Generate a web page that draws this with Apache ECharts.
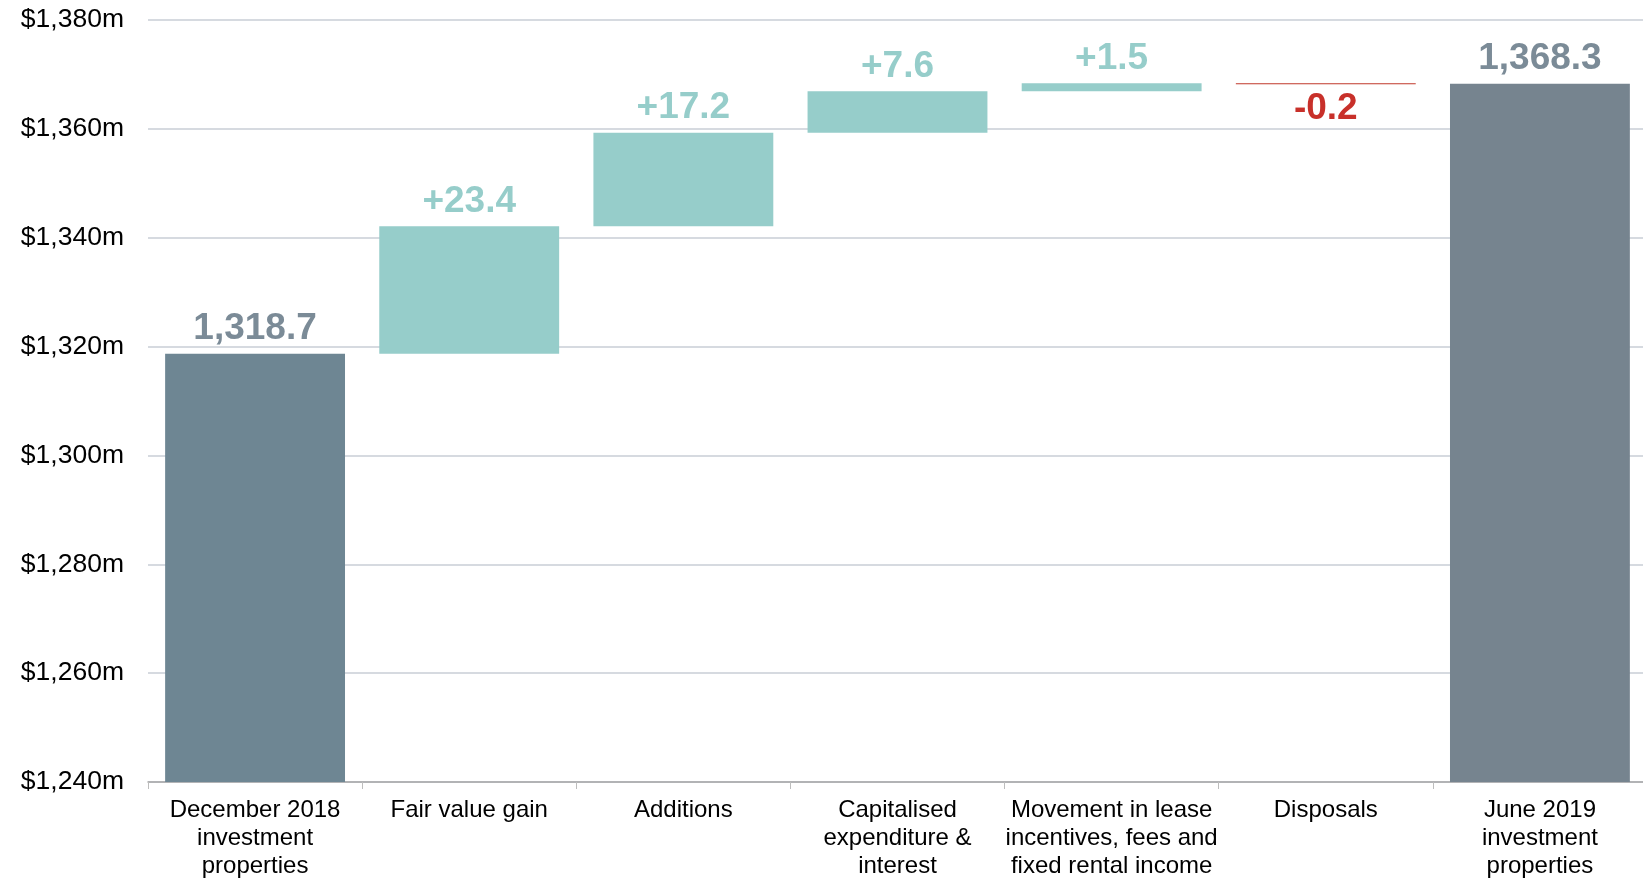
<!DOCTYPE html>
<html>
<head>
<meta charset="utf-8">
<script src="https://cdn.jsdelivr.net/npm/echarts@6/dist/echarts.min.js"></script>
<style>
  html, body { margin: 0; padding: 0; background: #fff; }
  #chart { width: 1643px; height: 879px; }
</style>
</head>
<body>
<div id="chart"></div>
<script>
    // waterfall data ($m)
    const categories = [
        'December 2018\ninvestment\nproperties',
        'Fair value gain',
        'Additions',
        'Capitalised\nexpenditure &\ninterest',
        'Movement in lease\nincentives, fees and\nfixed rental income',
        'Disposals',
        'June 2019\ninvestment\nproperties'
    ];
    const baseValues = [0, 1318.7, 1342.1, 1359.3, 1366.9, 1368.2, 0]; /*invisible part*/
    const barValues = [1318.7, 23.4, 17.2, 7.6, 1.5, 0.2, 1368.3];     /*visible part*/
    const barLabels = ['1,318.7', '+23.4', '+17.2', '+7.6', '+1.5', '-0.2', '1,368.3'];
    const barKinds = ['total', 'up', 'up', 'up', 'up', 'down', 'total'];
    const yMin = 1240, yMax = 1380, yStep = 20;

    const font = '"Liberation Sans", Arial, sans-serif';
    const totalColors = ['#6e8693', '#76848f'];
    const kindStyle = {
        total: { label: '#7b8b97', pos: 'top' },
        up: { bar: '#96cdca', label: '#96cdca', pos: 'top' },
        down: { bar: '#c0392b', label: '#c8302a', pos: 'bottom' }
    };

    const chart = echarts.init(document.getElementById('chart'));
    chart.setOption({
        animation: false,
        grid: { left: 148, right: -4, top: 20, bottom: 97, outerBoundsMode: 'none' },
        xAxis: {
            type: 'category',
            data: categories,
            axisLine: { lineStyle: { color: '#a6a6a6', width: 1.5 } },
            axisTick: { show: true, length: 7, lineStyle: { color: '#bdbdbd' } },
            axisLabel: {
                interval: 0,
                color: '#000',
                fontFamily: font,
                fontSize: 24,
                lineHeight: 28,
                margin: 14
            }
        },
        yAxis: {
            type: 'value',
            min: yMin,
            max: yMax,
            interval: yStep,
            axisLine: { show: false },
            axisTick: { show: false },
            splitLine: { lineStyle: { color: '#c9ced6', width: 1.5 } },
            axisLabel: {
                color: '#000',
                fontFamily: font,
                fontSize: 26.5,
                margin: 24,
                formatter: v => '$' + v.toLocaleString('en-US') + 'm'
            }
        },
        series: [
            {
                type: 'bar',
                stack: 'wf',
                silent: true,
                barCategoryGap: '16%',
                itemStyle: { color: 'transparent' },
                data: baseValues
            },
            {
                type: 'bar',
                stack: 'wf',
                barCategoryGap: '16%',
                clip: true,
                data: barValues.map((v, i) => {
                    const k = kindStyle[barKinds[i]];
                    const col = barKinds[i] === 'total' ? totalColors[i === 0 ? 0 : 1] : k.bar;
                    return {
                        value: v,
                        itemStyle: { color: col },
                        label: {
                            show: true,
                            position: k.pos,
                            distance: 6,
                            formatter: barLabels[i],
                            color: k.label,
                            fontFamily: font,
                            fontWeight: 'bold',
                            fontSize: 37
                        }
                    };
                })
            }
        ]
    });
</script>
</body>
</html>
